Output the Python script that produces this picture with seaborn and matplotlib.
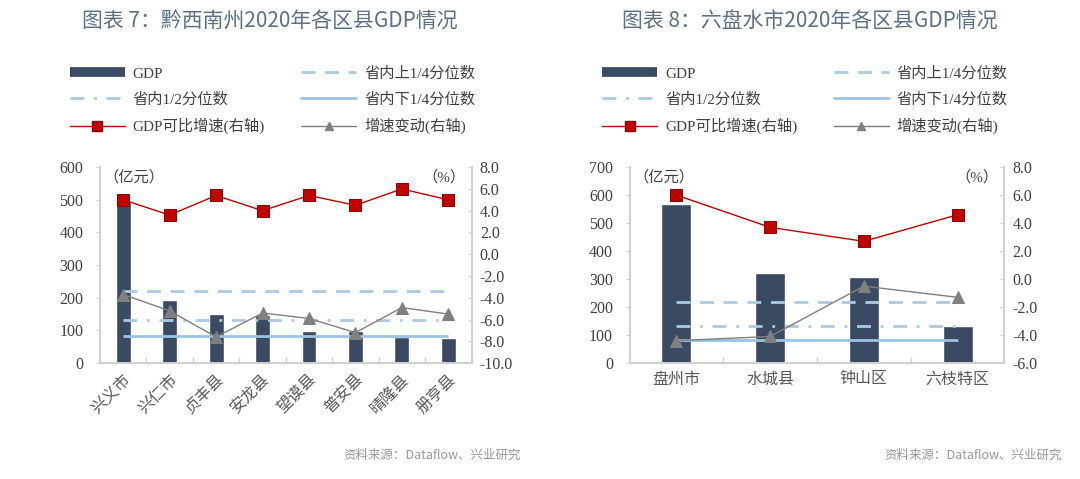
import numpy as np
import matplotlib
matplotlib.use("Agg")
import matplotlib.pyplot as plt
from matplotlib.lines import Line2D
import seaborn as sns

# chart 7 data (黔西南州)
qxn_regions = ["兴义市", "兴仁市", "贞丰县", "安龙县", "望谟县", "普安县", "晴隆县", "册亨县"]
qxn_gdp = [493, 192, 151, 148, 98, 97, 80, 78]
qxn_growth = [5.0, 3.6, 5.4, 4.0, 5.4, 4.5, 6.0, 5.0]
qxn_change = [-3.7, -5.2, -7.6, -5.4, -5.9, -7.2, -4.9, -5.5]

# chart 8 data (六盘水市)
lps_regions = ["盘州市", "水城县", "钟山区", "六枝特区"]
lps_gdp = [569, 321, 307, 132]
lps_growth = [6.0, 3.7, 2.7, 4.6]
lps_change = [-4.4, -4.1, -0.5, -1.3]

# provincial quartiles (亿元)
q_upper = 220
q_median = 133
q_lower = 83

sns.set_theme(style="white")
plt.rcParams["font.family"] = ["Liberation Serif", "Noto Sans CJK SC"]

BAR = "#3b4a63"
RED = "#c00000"
GRAY = "#808080"
LB1 = "#a9cbe3"
LB2 = "#9cc3e2"
TICK = "#404040"
SPINE = "#d0d0d0"
TITLE = "#5d7186"
DASH = (0, (5, 3.5))
DASHDOT = (0, (5, 3.5, 1, 3.5))


def draw(fig, rect, regions, gdp, growth, change, ylim, yticks, y2lim, y2ticks, rotate, title, title_x, legend_anchor):
    ax = fig.add_axes(rect)
    sns.barplot(x=regions, y=gdp, ax=ax, color=BAR, width=0.32, saturation=1)
    n = len(regions)
    ax.hlines(q_upper, 0, n - 1, color=LB1, lw=2, linestyle=DASH)
    ax.hlines(q_median, 0, n - 1, color=LB1, lw=2, linestyle=DASHDOT)
    ax.hlines(q_lower, 0, n - 1, color=LB2, lw=2)
    ax.set_xlim(-0.5, n - 0.5)
    ax.set_ylim(*ylim)
    ax.set_yticks(yticks)

    ax2 = ax.twinx()
    pos = np.arange(n)
    sns.lineplot(x=pos, y=change, ax=ax2, color=GRAY, lw=1, marker="^",
                 markersize=9, markeredgecolor=GRAY, markerfacecolor=GRAY)
    sns.lineplot(x=pos, y=growth, ax=ax2, color=RED, lw=1, marker="s",
                 markersize=8, markeredgecolor="#900000", markerfacecolor=RED)
    ax2.set_ylim(*y2lim)
    ax2.set_yticks(y2ticks)
    ax2.set_yticklabels([f"{v:.1f}" for v in y2ticks])

    for a in (ax, ax2):
        for s in ("left", "right", "bottom"):
            a.spines[s].set_color(SPINE)
        a.spines["top"].set_visible(False)
        a.tick_params(axis="y", length=3, width=0.8, color=SPINE, labelsize=11.5, colors=TICK)
    ax.tick_params(axis="y", direction="out", pad=9, left=True)
    ax2.tick_params(axis="y", direction="in", pad=6, right=True)
    ax.set_xticks(np.arange(-0.5, n, 1), minor=True)
    ax.tick_params(axis="x", which="major", length=0, labelsize=11.5, colors="#595959", pad=6)
    ax.tick_params(axis="x", which="minor", length=4, direction="in", color=SPINE, bottom=True)
    if rotate:
        plt.setp(ax.get_xticklabels(), rotation=45, ha="right", rotation_mode="anchor")
    ax.set_xlabel("")
    ax.set_ylabel("")
    ax2.set_ylabel("")

    ax.text(0.01, 0.985, "（亿元）", transform=ax.transAxes, ha="left", va="top",
            fontsize=11, color=TICK)
    ax.text(0.985, 0.985, "（%）", transform=ax.transAxes, ha="right", va="top",
            fontsize=11, color=TICK)

    fig.text(title_x, 0.955, title, ha="center", va="center", fontsize=15,
             color=TITLE, family=["Noto Sans CJK SC"])

    handles = [
        Line2D([], [], color=BAR, lw=7, solid_capstyle="butt"),
        Line2D([], [], color=LB1, lw=2, linestyle=DASHDOT),
        Line2D([], [], color=RED, lw=1, marker="s", markersize=7,
               markerfacecolor=RED, markeredgecolor="#900000"),
        Line2D([], [], color=LB1, lw=2, linestyle=DASH),
        Line2D([], [], color=LB2, lw=2),
        Line2D([], [], color=GRAY, lw=1, marker="^", markersize=6),
    ]
    labels = ["GDP", "省内1/2分位数", "GDP可比增速(右轴)",
              "省内上1/4分位数", "省内下1/4分位数", "增速变动(右轴)"]
    fig.legend(handles, labels, loc="upper left", bbox_to_anchor=legend_anchor,
               ncol=2, frameon=False, fontsize=11, handlelength=3.6,
               handletextpad=0.5, columnspacing=2.4, labelspacing=0.75,
               labelcolor=TICK)
    return ax, ax2


fig = plt.figure(figsize=(10.8, 4.79), dpi=100)

draw(fig, [0.0926, 0.242, 0.344, 0.409], qxn_regions, qxn_gdp, qxn_growth, qxn_change,
     (0, 600), range(0, 601, 100), (-10, 8), np.arange(-10, 8.1, 2), True,
     "图表 7：黔西南州2020年各区县GDP情况", 0.25, (0.052, 0.89))
draw(fig, [0.583, 0.242, 0.347, 0.409], lps_regions, lps_gdp, lps_growth, lps_change,
     (0, 700), range(0, 701, 100), (-6, 8), np.arange(-6, 8.1, 2), False,
     "图表 8：六盘水市2020年各区县GDP情况", 0.75, (0.545, 0.89))

fig.text(0.482, 0.05, "资料来源：Dataflow、兴业研究", ha="right", va="center",
         fontsize=9, color="#999999", family=["Noto Sans CJK SC"])
fig.text(0.983, 0.05, "资料来源：Dataflow、兴业研究", ha="right", va="center",
         fontsize=9, color="#999999", family=["Noto Sans CJK SC"])

fig.savefig("out.png", dpi=100, facecolor="white")
